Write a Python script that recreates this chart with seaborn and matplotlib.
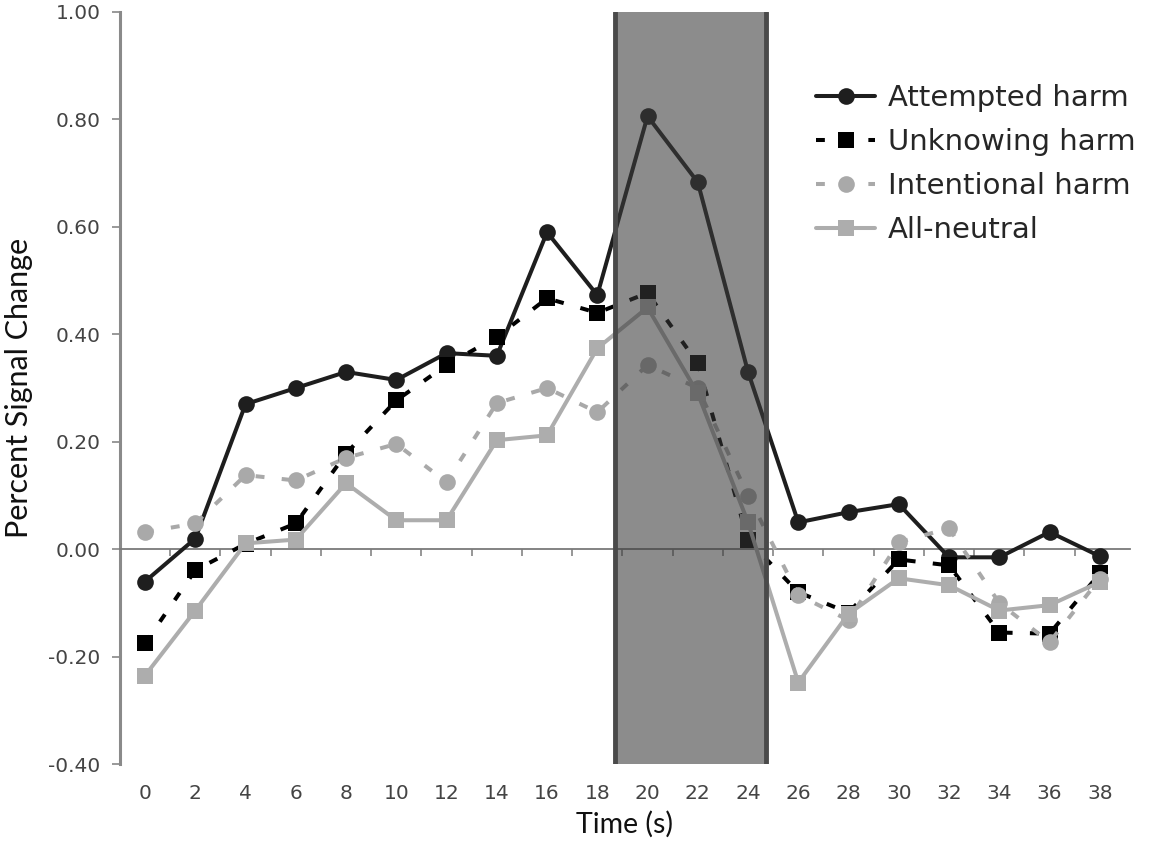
import numpy as np
import pandas as pd
import matplotlib
matplotlib.use("Agg")
import matplotlib.pyplot as plt
import seaborn as sns
from matplotlib.ticker import MultipleLocator, FixedLocator, FormatStrFormatter

time_s = [0, 2, 4, 6, 8, 10, 12, 14, 16, 18, 20, 22, 24, 26, 28, 30, 32, 34, 36, 38]
attempted = [-0.06, 0.02, 0.27, 0.30, 0.33, 0.315, 0.365, 0.36, 0.59, 0.473, 0.806, 0.683, 0.33,
             0.05, 0.069, 0.084, -0.015, -0.015, 0.032, -0.013]
unknowing = [-0.175, -0.039, 0.01, 0.048, 0.178, 0.277, 0.343, 0.395, 0.467, 0.44, 0.477, 0.346, 0.017,
             -0.08, -0.118, -0.019, -0.03, -0.155, -0.157, -0.045]
intentional = [0.032, 0.048, 0.138, 0.128, 0.17, 0.196, 0.125, 0.272, 0.30, 0.255, 0.343, 0.30, 0.10,
               -0.085, -0.132, 0.013, 0.039, -0.10, -0.173, -0.055]
neutral = [-0.235, -0.114, 0.011, 0.018, 0.123, 0.054, 0.054, 0.203, 0.212, 0.374, 0.45, 0.29, 0.05,
           -0.248, -0.12, -0.054, -0.067, -0.114, -0.104, -0.061]
conditions = ["Attempted harm", "Unknowing harm", "Intentional harm", "All-neutral"]
shade_start, shade_end = 18.7, 24.7

series = [attempted, unknowing, intentional, neutral]
df = pd.DataFrame({
    "time": np.tile(time_s, len(conditions)),
    "value": np.concatenate(series),
    "cond": np.repeat(conditions, len(time_s)),
})

sns.set_theme(style="white")
plt.rcParams["font.family"] = ["DejaVu Sans"]

fig = plt.figure(figsize=(11.53, 8.51), dpi=100)
ax = fig.add_axes([0.104, 0.102, 0.876, 0.884])

palette = {"Attempted harm": "#1e1e1e", "Unknowing harm": "#000000",
           "Intentional harm": "#a9a9a9", "All-neutral": "#adadad"}
markers = {"Attempted harm": "o", "Unknowing harm": "s",
           "Intentional harm": "o", "All-neutral": "s"}
dashes = {"Attempted harm": "", "Unknowing harm": (2.2, 4.3),
          "Intentional harm": (2.2, 4.3), "All-neutral": ""}

sns.lineplot(data=df, x="time", y="value", hue="cond", style="cond",
             hue_order=conditions, style_order=conditions,
             palette=palette, markers=markers, dashes=dashes,
             linewidth=2.9, markersize=12, markeredgewidth=0,
             ax=ax, legend=True, zorder=3)

# shaded window
ax.axvspan(shade_start, shade_end, color="#3a3a3a", alpha=0.58, lw=0, zorder=5)
for xv in (shade_start, shade_end):
    ax.axvline(xv, color="#4a4a4a", lw=3.5, zorder=6)

ax.set_xlim(-1, 39.2)
ax.set_ylim(-0.40, 1.00)

# y axis
ax.yaxis.set_major_locator(MultipleLocator(0.2))
ax.yaxis.set_major_formatter(FormatStrFormatter("%.2f"))
ax.tick_params(axis="y", which="major", direction="out", length=6, width=1.2,
               color="#888888", labelsize=14.5, labelcolor="#444444", pad=8, left=True)
for s in ["top", "right"]:
    ax.spines[s].set_visible(False)
ax.spines["left"].set_color("#8a8a8a")
ax.spines["left"].set_linewidth(2.2)

# bottom spine at zero with between-category ticks
ax.spines["bottom"].set_position(("data", 0))
ax.spines["bottom"].set_color("#7a7a7a")
ax.spines["bottom"].set_linewidth(1.3)
ax.xaxis.set_major_locator(FixedLocator(list(np.arange(1, 39, 2))))
ax.tick_params(axis="x", which="major", direction="out", length=5, width=1.1,
               color="#7a7a7a", labelbottom=False, bottom=True)

sec = ax.secondary_xaxis(0.0)
sec.set_xticks(time_s)
sec.set_xticklabels([str(t) for t in time_s])
sec.tick_params(axis="x", length=0, labelsize=14.5, labelcolor="#444444", pad=14)
sec.spines["bottom"].set_visible(False)

ax.set_xlabel("")
ax.set_ylabel("Percent Signal Change", fontsize=22, family=["Lato", "DejaVu Sans"],
              color="#111111", labelpad=11)
sec.set_xlabel("Time (s)", fontsize=20.5, family=["Lato", "DejaVu Sans"], color="#111111",
               labelpad=6)

ax.grid(False)

sns.move_legend(ax, loc="upper left", bbox_to_anchor=(0.698, 0.915),
                bbox_transform=fig.transFigure, frameon=False, title=None,
                fontsize=21, handlelength=2.0, handletextpad=0.45, labelspacing=0.55,
                borderaxespad=0)

fig.savefig("out.png", dpi=100, facecolor="white")
